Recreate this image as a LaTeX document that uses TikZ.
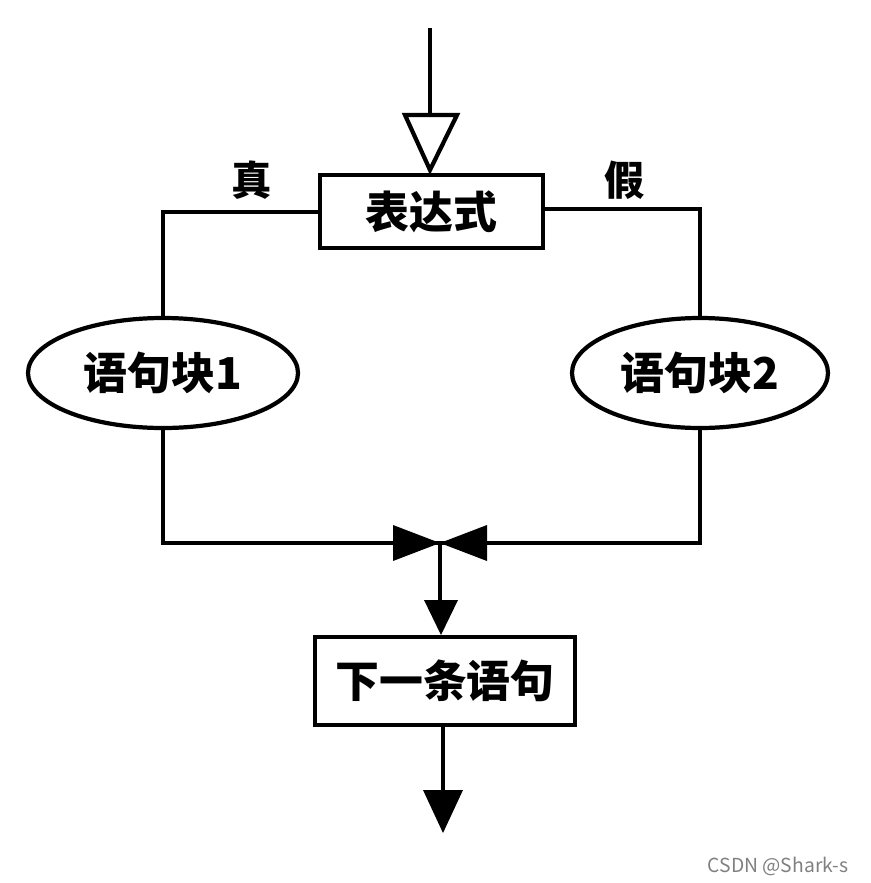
\documentclass[tikz,border=0pt]{standalone}
\usepackage{fontspec}
\setmainfont{Noto Sans CJK SC}[BoldFont={Noto Sans CJK SC Bold}]
\newfontfamily\cjkb{Noto Sans CJK SC Black}
\usetikzlibrary{shapes.geometric}
\begin{document}
\begin{tikzpicture}[x=0.02cm,y=-0.02cm,line width=2.4pt,
  box/.style={draw,rectangle,inner sep=0pt,font=\cjkb\fontsize{25}{28}\selectfont},
  oval/.style={draw,ellipse,inner sep=0pt,font=\cjkb\fontsize{25}{28}\selectfont},
  lbl/.style={font=\cjkb\fontsize{23}{26}\selectfont}]
\useasboundingbox (0,0) rectangle (870,883);
\node[box,minimum width=223*0.02cm,minimum height=73*0.02cm] (expr) at (431.5,211.5) {表达式};
\node[oval,minimum width=270*0.02cm,minimum height=110*0.02cm] (b1) at (163,373) {语句块1};
\node[oval,minimum width=256*0.02cm,minimum height=110*0.02cm] (b2) at (700,373) {语句块2};
\node[box,minimum width=260*0.02cm,minimum height=88*0.02cm] (next) at (445,681) {下一条语句};
\node[lbl] (t) at (252,180) {真};
\node[lbl] (f) at (625,180) {假};
\coordinate (top) at (430,28);
\coordinate (m) at (440,543);
\coordinate (end) at (443,833);
\draw (top) -- (430,115);
\draw[line join=miter] (405,115) -- (457,115) -- (430,170) -- cycle;
\draw (expr.west |- 0,212) -- (163,212) -- (b1.north);
\draw (expr.east |- 0,209) -- (700,209) -- (b2.north);
\draw (b1.south) -- (163,543) -- (m);
\draw (b2.south) -- (700,543) -- (m);
\fill (393,525) -- (440,543) -- (393,561) -- cycle;
\fill (487,525) -- (440,543) -- (487,561) -- cycle;
\draw (m) -- (440,600);
\fill (424,600) -- (458,600) -- (441,635) -- cycle;
\draw (next.south -| 443,0) -- (443,790);
\fill (423,790) -- (463,790) -- (end) -- cycle;
\node[font=\fontsize{11}{12}\selectfont,text=gray,anchor=east] (wm) at (856,866) {CSDN @Shark-s};
\end{tikzpicture}
\end{document}
